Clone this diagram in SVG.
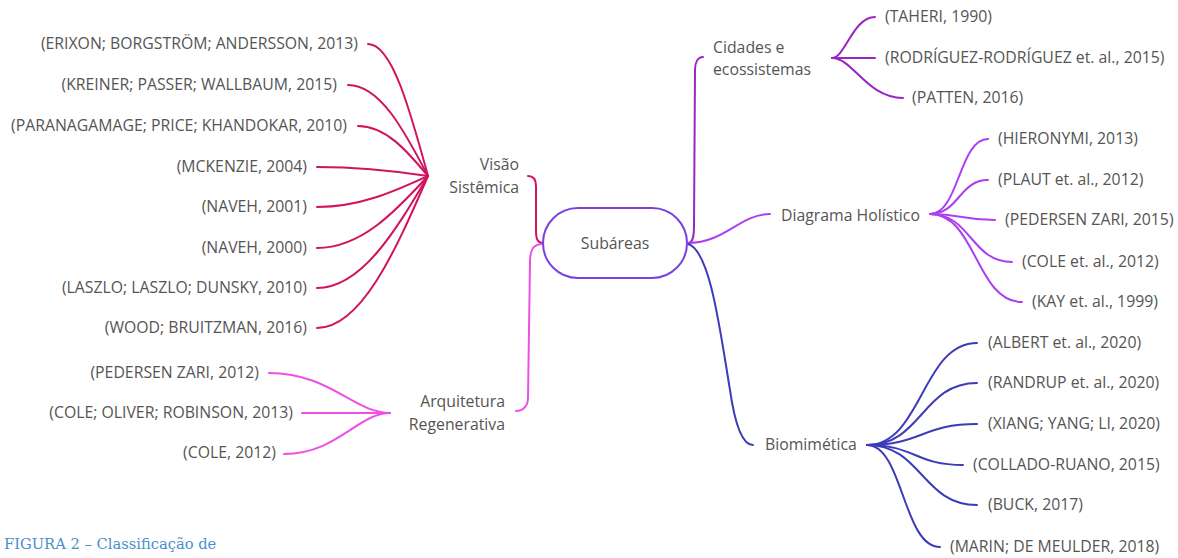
<svg xmlns="http://www.w3.org/2000/svg" width="1178" height="558" viewBox="0 0 1178 558">
<style>
.t{font-family:"Open Sans","Liberation Sans",sans-serif;font-size:15.8px;fill:#555}
.e{text-anchor:end}
.c{fill:none;stroke-width:2;stroke-linecap:round}
.vs{stroke:#d1135f}
.ar{stroke:#ee50e6}
.ci{stroke:#9a24c4}
.dh{stroke:#ac3ff0}
.bi{stroke:#3c3cb8}
.cap{font-family:"DejaVu Serif",serif;font-size:14.7px;fill:#4a8fc9}
</style>
<rect width="1178" height="558" fill="#fff"/>
<g id="connectors">
<path class="c vs" d="M543,243 C537,243 536,238 536,230 L536,186 C536,179 533,176 528,176"/>
<path class="c ar" d="M543,244 C533,244 530,250 530,262 L528,398 C528,406 523,411 516,411"/>
<path class="c ci" d="M688,243 C693,243 694,236 694,226 L695,70 C695,62 698,57 703,57"/>
<path class="c dh" d="M688,243 C725,243 740,214 770,214"/>
<path class="c bi" d="M688,244 C710,250 720,330 730,390 C735,425 742,445 753,445"/>
<g class="c vs">
<path d="M368,44 C392,44 410,110 428,176"/>
<path d="M348,85 C380,85 404,130 428,176"/>
<path d="M358,126 C386,126 407,151 428,176"/>
<path d="M317,167 C361,167 395,171 428,176"/>
<path d="M317,207 C361,207 395,191 428,176"/>
<path d="M317,248 C361,248 395,212 428,176"/>
<path d="M317,288 C361,288 395,232 428,176"/>
<path d="M317,328 C361,328 395,252 428,176"/>
</g>
<g class="c ar">
<path d="M269,373 C330,373 354,413 390,413"/>
<path d="M302,413 L390,413"/>
<path d="M284,454 C337,454 358,413 390,413"/>
</g>
<g class="c ci">
<path d="M832,58 C845,58 853,17 875,17"/>
<path d="M832,58 L875,58"/>
<path d="M832,58 C853,58 867,98 903,98"/>
</g>
<g class="c dh">
<path d="M930,214 C959,214 959,139 988,139"/>
<path d="M930,214 C959,214 959,180 988,180"/>
<path d="M930,214 C962,214 962,220 995,220"/>
<path d="M930,214 C971,214 971,262 1012,262"/>
<path d="M930,214 C976,214 976,302 1022,302"/>
</g>
<g class="c bi">
<path d="M867,445 C922,445 922,343 977,343"/>
<path d="M867,445 C922,445 922,383 977,383"/>
<path d="M867,445 C922,445 922,424 977,424"/>
<path d="M867,445 C915,445 915,465 963,465"/>
<path d="M867,445 C922,445 922,505 977,505"/>
<path d="M867,445 C903,445 903,547 940,547"/>
</g>
</g>
<g id="n-subareas">
<rect x="543" y="208" width="144" height="70" rx="35" fill="#fff" stroke="#7a40e0" stroke-width="2"/>
<text class="t" x="615" y="249" text-anchor="middle">Subáreas</text>
</g>
<g id="n-visao"><text class="t e" x="519" y="170">Visão</text><text class="t e" x="519" y="193">Sistêmica</text></g>
<g id="n-arq"><text class="t e" x="505" y="407">Arquitetura</text><text class="t e" x="505" y="430">Regenerativa</text></g>
<g id="n-cid"><text class="t" x="713" y="53">Cidades e</text><text class="t" x="713" y="75">ecossistemas</text></g>
<g id="n-diag"><text class="t" x="781" y="221">Diagrama Holístico</text></g>
<g id="n-bio"><text class="t" x="765" y="450">Biomimética</text></g>
<g id="leaves-visao">
<text class="t e" x="358" y="49">(ERIXON; BORGSTRÖM; ANDERSSON, 2013)</text>
<text class="t e" x="337" y="90">(KREINER; PASSER; WALLBAUM, 2015)</text>
<text class="t e" x="347" y="131">(PARANAGAMAGE; PRICE; KHANDOKAR, 2010)</text>
<text class="t e" x="307" y="172">(MCKENZIE, 2004)</text>
<text class="t e" x="307" y="212">(NAVEH, 2001)</text>
<text class="t e" x="307" y="253">(NAVEH, 2000)</text>
<text class="t e" x="307" y="293">(LASZLO; LASZLO; DUNSKY, 2010)</text>
<text class="t e" x="307" y="333">(WOOD; BRUITZMAN, 2016)</text>
</g>
<g id="leaves-arq">
<text class="t e" x="259" y="378">(PEDERSEN ZARI, 2012)</text>
<text class="t e" x="293" y="418">(COLE; OLIVER; ROBINSON, 2013)</text>
<text class="t e" x="276" y="458">(COLE, 2012)</text>
</g>
<g id="leaves-cid">
<text class="t" x="885" y="22">(TAHERI, 1990)</text>
<text class="t" x="885" y="63">(RODRÍGUEZ-RODRÍGUEZ et. al., 2015)</text>
<text class="t" x="912" y="103">(PATTEN, 2016)</text>
</g>
<g id="leaves-diag">
<text class="t" x="998" y="144">(HIERONYMI, 2013)</text>
<text class="t" x="998" y="185">(PLAUT et. al., 2012)</text>
<text class="t" x="1005" y="225">(PEDERSEN ZARI, 2015)</text>
<text class="t" x="1022" y="267">(COLE et. al., 2012)</text>
<text class="t" x="1032" y="307">(KAY et. al., 1999)</text>
</g>
<g id="leaves-bio">
<text class="t" x="988" y="348">(ALBERT et. al., 2020)</text>
<text class="t" x="988" y="388">(RANDRUP et. al., 2020)</text>
<text class="t" x="988" y="429">(XIANG; YANG; LI, 2020)</text>
<text class="t" x="973" y="470">(COLLADO-RUANO, 2015)</text>
<text class="t" x="988" y="510">(BUCK, 2017)</text>
<text class="t" x="950" y="552">(MARIN; DE MEULDER, 2018)</text>
</g>
<text class="cap" x="4" y="549">FIGURA 2 – Classificação de</text>
</svg>
